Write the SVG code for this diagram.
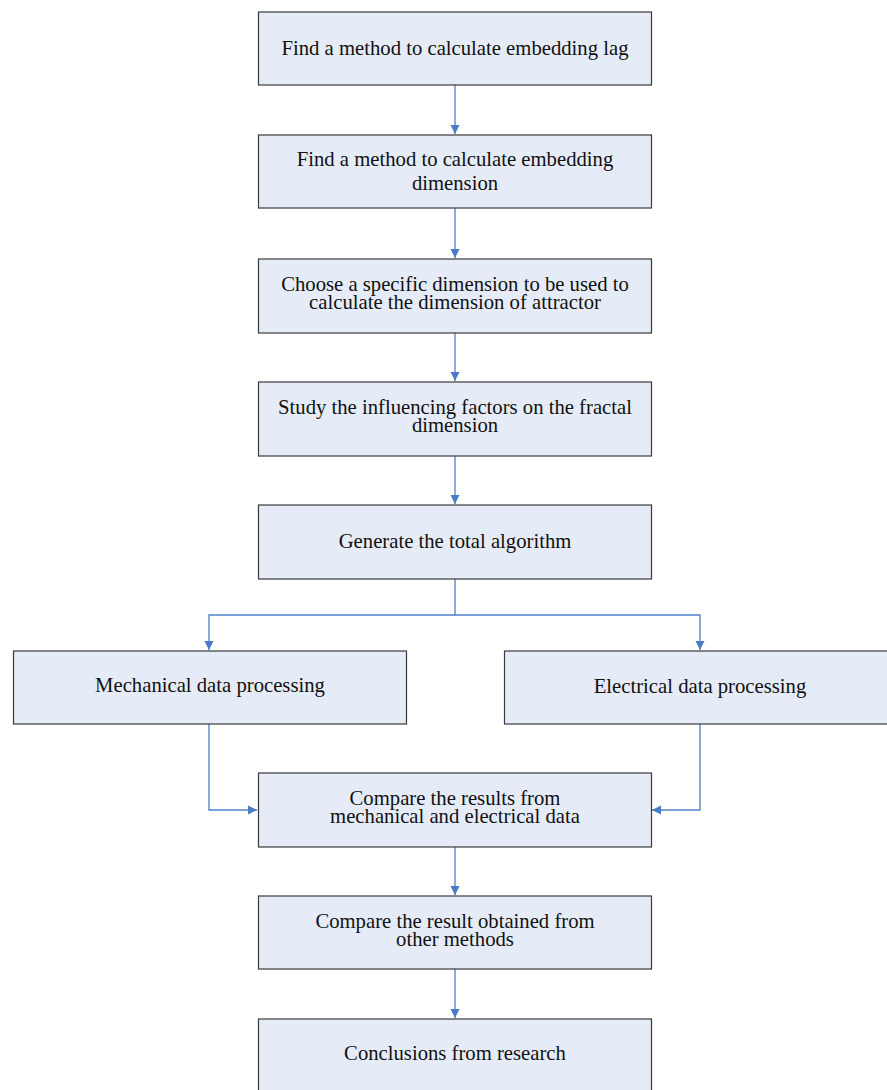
<svg xmlns="http://www.w3.org/2000/svg" width="887" height="1090" viewBox="0 0 887 1090">
<style>
.box{fill:#E6ECF7;stroke:#3a3a3a;stroke-width:1.2}
.t{font-family:"Liberation Serif","Times New Roman",serif;font-size:20.7px;fill:#111;text-anchor:middle}
.c{fill:none;stroke:#4F81C7;stroke-width:1.3}
</style>
<defs>
<marker id="ah" markerWidth="10" markerHeight="10" refX="9" refY="5" orient="auto" markerUnits="userSpaceOnUse">
<path d="M0,0.5 L9,5 L0,9.5 Z" fill="#4A7BC4"/>
</marker>
</defs>
<rect width="887" height="1090" fill="#fff"/>
<g id="connectors">
<path class="c" d="M455,85 V134" marker-end="url(#ah)"/>
<path class="c" d="M455,208 V258" marker-end="url(#ah)"/>
<path class="c" d="M455,333 V381" marker-end="url(#ah)"/>
<path class="c" d="M455,456 V504" marker-end="url(#ah)"/>
<path class="c" d="M455,579 V615 H209 V650" marker-end="url(#ah)"/>
<path class="c" d="M455,615 H700 V650" marker-end="url(#ah)"/>
<path class="c" d="M209,724 V810 H257" marker-end="url(#ah)"/>
<path class="c" d="M700,724 V810 H652" marker-end="url(#ah)"/>
<path class="c" d="M455,847 V895" marker-end="url(#ah)"/>
<path class="c" d="M455,969 V1018" marker-end="url(#ah)"/>
</g>
<g id="n1"><rect class="box" x="258.5" y="12" width="393" height="73"/><text class="t" x="455" y="55">Find a method to calculate embedding lag</text></g>
<g id="n2"><rect class="box" x="258.5" y="135" width="393" height="73"/><text class="t" x="455" y="166">Find a method to calculate embedding</text><text class="t" x="455" y="190">dimension</text></g>
<g id="n3"><rect class="box" x="258.5" y="259" width="393" height="74"/><text class="t" x="455" y="291">Choose a specific dimension to be used to</text><text class="t" x="455" y="309">calculate the dimension of attractor</text></g>
<g id="n4"><rect class="box" x="258.5" y="382" width="393" height="74"/><text class="t" x="455" y="414">Study the influencing factors on the fractal</text><text class="t" x="455" y="432">dimension</text></g>
<g id="n5"><rect class="box" x="258.5" y="505" width="393" height="74"/><text class="t" x="455" y="548">Generate the total algorithm</text></g>
<g id="n6"><rect class="box" x="13.5" y="651" width="393" height="73"/><text class="t" x="210" y="692">Mechanical data processing</text></g>
<g id="n7"><rect class="box" x="504.5" y="651" width="393" height="73"/><text class="t" x="700" y="693">Electrical data processing</text></g>
<g id="n8"><rect class="box" x="258.5" y="773" width="393" height="74"/><text class="t" x="455" y="805">Compare the results from</text><text class="t" x="455" y="823">mechanical and electrical data</text></g>
<g id="n9"><rect class="box" x="258.5" y="896" width="393" height="73"/><text class="t" x="455" y="928">Compare the result obtained from</text><text class="t" x="455" y="946">other methods</text></g>
<g id="n10"><rect class="box" x="258.5" y="1019" width="393" height="80"/><text class="t" x="455" y="1060">Conclusions from research</text></g>
</svg>
